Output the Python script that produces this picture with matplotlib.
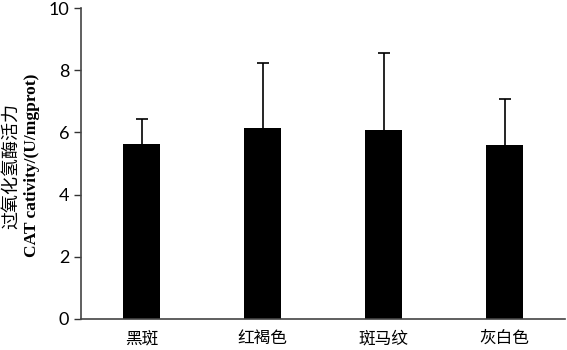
import matplotlib
matplotlib.use('Agg')
import matplotlib.pyplot as plt

# 数据
categories = ['黑斑', '红褐色', '斑马纹', '灰白色']
means = [5.63, 6.13, 6.07, 5.60]
errors = [0.80, 2.10, 2.50, 1.48]

fig = plt.figure(figsize=(5.67, 3.5), dpi=100)
ax = fig.add_axes([0.1429, 0.0886, 0.8536, 0.8884])

x = [i + 0.5 for i in range(len(categories))]
ax.bar(x, means, width=0.31, color='black')
eb = ax.errorbar(x, means, yerr=[[0] * len(errors), errors], fmt='none',
                 ecolor='black', elinewidth=1.2, capsize=4, capthick=1.2)
# 只保留上方误差线的帽
eb[1][0].set_visible(False)

ax.set_xlim(0, 4)
ax.set_ylim(0, 10)
ax.set_yticks([0, 2, 4, 6, 8, 10])
ax.set_xticks(x)
ax.set_xticklabels(categories, family=['Noto Sans CJK SC', 'DejaVu Sans'], fontsize=12)
ax.tick_params(axis='x', length=0, pad=8)
ax.tick_params(axis='y', length=5, direction='out', labelsize=13, width=1, colors='#333333')
for lab in ax.get_yticklabels():
    lab.set_family('Lato')
    lab.set_color('black')

for s in ['top', 'right']:
    ax.spines[s].set_visible(False)
for s in ['left', 'bottom']:
    ax.spines[s].set_color('#444444')
    ax.spines[s].set_linewidth(1.2)

# 纵轴标题（两行）
fig.text(0.019, 0.526, '过氧化氢酶活力', rotation=90, ha='center', va='center',
         fontsize=13, family=['Noto Sans CJK SC', 'DejaVu Sans'])
fig.text(0.056, 0.529, 'CAT cativity/(U/mgprot)', rotation=90, ha='center', va='center',
         fontsize=12.5, family='Liberation Serif', weight='bold')

fig.savefig('out.png', dpi=100)
